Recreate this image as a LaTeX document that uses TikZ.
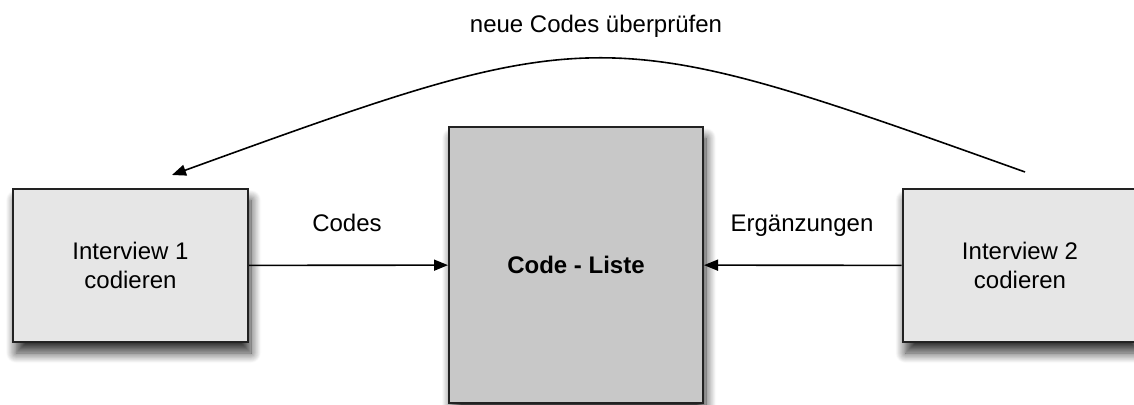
\documentclass[tikz,border=0pt]{standalone}
\usepackage{fontspec}
\setmainfont{Liberation Sans}
\usetikzlibrary{arrows.meta,shadows.blur}
\definecolor{lightbox}{HTML}{E6E6E6}
\definecolor{midbox}{HTML}{C8C8C8}
\definecolor{edge}{HTML}{222222}
\tikzset{
  every node/.style={font=\fontsize{12}{14.5}\selectfont},
  procbox/.style={draw=edge, line width=1pt, inner sep=0pt, align=center,
    blur shadow={shadow xshift=1.5pt, shadow yshift=-5.5pt, shadow blur radius=5pt, shadow opacity=80, shadow blur steps=12}},
  sidebox/.style={procbox, fill=lightbox, minimum width=117.5pt, minimum height=76.5pt},
  listbox/.style={procbox, fill=midbox, minimum width=127pt, minimum height=138pt},
  conn/.style={draw=black, line width=0.8pt, -{Triangle[length=7pt, width=5.5pt]}},
  lbl/.style={anchor=base, inner sep=0pt}
}
\begin{document}
\begin{tikzpicture}[x=0.5pt, y=-0.5pt]
  \useasboundingbox (0,0) rectangle (1134,405);
  \node[sidebox] (i1) at (130.5,265.5) {Interview 1\\codieren};
  \node[sidebox] (i2) at (1020,265.5) {Interview 2\\codieren};
  \node[listbox] (cl) at (576,265) {\textbf{Code - Liste}};
  \draw[conn] (i1) -- (cl);
  \draw[conn] (i2) -- (cl);
  \node[lbl] (lc) at (347,232) {Codes};
  \node[lbl] (le) at (802,232) {Ergänzungen};
  \node[lbl] (lt) at (596,33) {neue Codes überprüfen};
  \coordinate (cs) at (1025,172);
  \coordinate (ce) at (172,175);
  \draw[conn] (cs) .. controls (600,20) and (600,20) .. (ce);
\end{tikzpicture}
\end{document}
